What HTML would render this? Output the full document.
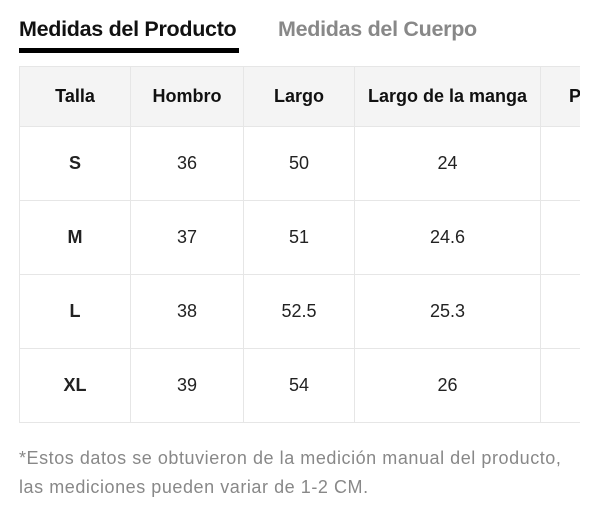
<!DOCTYPE html>
<html><head><style>
body{margin:0;width:600px;height:515px;background:#fff;font-family:"Liberation Sans",sans-serif;position:relative;overflow:hidden}
.t{position:absolute;top:17px;font-size:21.5px;font-weight:bold;letter-spacing:-0.3px}
.ul{position:absolute;left:19px;top:48px;width:220px;height:5px;background:#000}
table{position:absolute;left:19px;top:66px;border-collapse:collapse;table-layout:fixed;width:600px}
td{border:1px solid #e6e6e6;text-align:center;font-size:18px;color:#222;height:73px;padding:0;white-space:nowrap;overflow:hidden}
tr.h td{background:#f4f4f4;font-weight:bold;height:59px;color:#111}
td.s{font-weight:bold}
.n{position:absolute;left:19px;top:444px;font-size:18px;letter-spacing:0.55px;color:#888;line-height:29px;white-space:nowrap}
.clip{position:absolute;left:0;top:0;width:580px;height:515px;overflow:hidden}
</style></head><body>
<div class="t" style="left:19px;color:#111">Medidas del Producto</div>
<div class="t" style="left:278px;color:#888">Medidas del Cuerpo</div>
<div class="ul"></div>
<div class="clip">
<table>
<colgroup><col style="width:111px"><col style="width:113px"><col style="width:111px"><col style="width:186px"><col style="width:79px"></colgroup>
<tr class="h"><td>Talla</td><td>Hombro</td><td>Largo</td><td>Largo de la manga</td><td style="text-align:left;padding-left:28px">Pecho</td></tr>
<tr><td class="s">S</td><td>36</td><td>50</td><td>24</td><td></td></tr>
<tr><td class="s">M</td><td>37</td><td>51</td><td>24.6</td><td></td></tr>
<tr><td class="s">L</td><td>38</td><td>52.5</td><td>25.3</td><td></td></tr>
<tr><td class="s">XL</td><td>39</td><td>54</td><td>26</td><td></td></tr>
</table>
</div>
<div class="n">*Estos datos se obtuvieron de la medición manual del producto,<br>las mediciones pueden variar de 1-2 CM.</div>
</body></html>
